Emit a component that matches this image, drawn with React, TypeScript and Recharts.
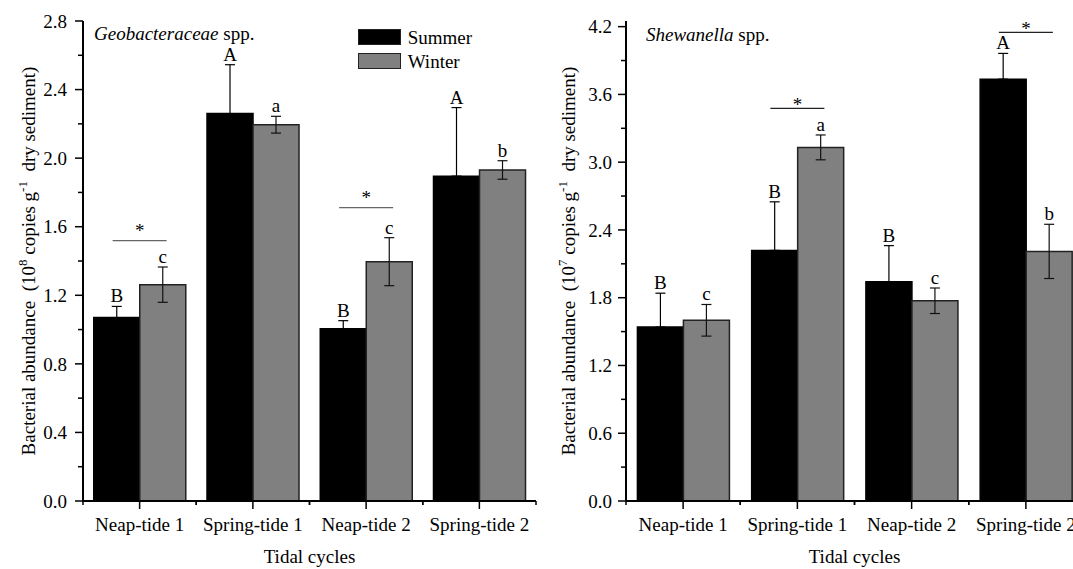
import React from 'react';
import { BarChart, Bar, XAxis, YAxis, ErrorBar, LabelList, ReferenceDot, Legend } from 'recharts';

// ---------- data ----------
const categories = ['Neap-tide 1', 'Spring-tide 1', 'Neap-tide 2', 'Spring-tide 2'];
const seriesNames = ['Summer', 'Winter'];

// Geobacteraceae spp. (10^8 copies g^-1 dry sediment)
const geoSummer = [1.07, 2.26, 1.005, 1.895];
const geoSummerErr = [0.065, 0.285, 0.047, 0.4];
const geoWinter = [1.262, 2.195, 1.396, 1.931];
const geoWinterErr = [0.103, 0.049, 0.14, 0.054];
const geoSummerLetters = ['B', 'A', 'B', 'A'];
const geoWinterLetters = ['c', 'a', 'c', 'b'];
const geoSigCats = ['Neap-tide 1', 'Neap-tide 2'];
const geoSigLevels = [1.519, 1.711];
const geoTicks = [0, 0.2, 0.4, 0.6, 0.8, 1.0, 1.2, 1.4, 1.6, 1.8, 2.0, 2.2, 2.4, 2.6, 2.8];
const geoMajorTicks = [0, 0.4, 0.8, 1.2, 1.6, 2.0, 2.4, 2.8];

// Shewanella spp. (10^7 copies g^-1 dry sediment)
const sheSummer = [1.54, 2.219, 1.941, 3.735];
const sheSummerErr = [0.3, 0.43, 0.32, 0.228];
const sheWinter = [1.6, 3.131, 1.773, 2.21];
const sheWinterErr = [0.14, 0.11, 0.113, 0.24];
const sheSummerLetters = ['B', 'B', 'B', 'A'];
const sheWinterLetters = ['c', 'a', 'c', 'b'];
const sheSigCats = ['Spring-tide 1', 'Spring-tide 2'];
const sheSigLevels = [3.476, 4.149];
const sheTicks = [0, 0.3, 0.6, 0.9, 1.2, 1.5, 1.8, 2.1, 2.4, 2.7, 3.0, 3.3, 3.6, 3.9, 4.2];
const sheMajorTicks = [0, 0.6, 1.2, 1.8, 2.4, 3.0, 3.6, 4.2];

// ---------- style ----------
const FONT = "'Liberation Serif', 'Times New Roman', serif";
const FS = 19;
const SUMMER_COLOR = '#000000';
const WINTER_COLOR = '#808080';

// Summer error bars: only the upper half shows above the black bar
const buildData = (s: number[], se: number[], w: number[], we: number[], sl: string[], wl: string[]) =>
  categories.map((c, i) => ({
    cat: c,
    summer: s[i],
    sErr: [0, se[i]],
    winter: w[i],
    wErr: we[i],
    sLetter: sl[i],
    wLetter: wl[i],
  }));

const YTick = (props: any) => {
  const { x, y, payload, majors, labelGap } = props;
  const v = payload.value as number;
  const major = majors.some((m: number) => Math.abs(m - v) < 1e-6);
  return (
    <g>
      <line x1={x} x2={x - (major ? 8 : 5)} y1={y} y2={y} stroke="#000" strokeWidth={1.5} />
      {major && (
        <text x={x - labelGap} y={y} dy="0.35em" textAnchor="end" fontSize={FS} fontFamily={FONT} fill="#000">
          {v.toFixed(1)}
        </text>
      )}
    </g>
  );
};

const XTick = (props: any) => {
  const { x, y, payload, band } = props;
  return (
    <g>
      <line x1={x} x2={x} y1={y} y2={y + 8} stroke="#000" strokeWidth={1.5} />
      <line x1={x - band / 2} x2={x - band / 2} y1={y} y2={y + 4} stroke="#000" strokeWidth={1.5} />
      <line x1={x + band / 2} x2={x + band / 2} y1={y} y2={y + 4} stroke="#000" strokeWidth={1.5} />
      <text x={x} y={y + 30} textAnchor="middle" fontSize={FS} fontFamily={FONT} fill="#000">
        {payload.value}
      </text>
    </g>
  );
};

const makeLetter = (vals: number[], errs: number[]) => (props: any) => {
  const vb = props.viewBox && props.viewBox.width !== undefined ? props.viewBox : props;
  const { x, y, width, height } = vb;
  const i = props.index;
  const v = vals[i];
  const e = errs[i];
  const ppu = Math.abs(height) / v;
  const top = Math.min(y, y + height) - e * ppu;
  return (
    <text x={x + width / 2} y={top - 4} textAnchor="middle" fontSize={FS} fontFamily={FONT} fill="#000">
      {props.value}
    </text>
  );
};

const makeSig = (color: string, starDy: number) => (props: any) => {
  const { cx, cy } = props;
  return (
    <g>
      <line x1={cx - 27} x2={cx + 27} y1={cy} y2={cy} stroke={color} strokeWidth={1.3} />
      <text x={cx} y={cy + starDy} textAnchor="middle" fontSize={FS} fontFamily={FONT} fill="#000">
        *
      </text>
    </g>
  );
};

const LegendContent = () => (
  <div style={{ fontFamily: FONT, fontSize: FS, color: '#000' }}>
    {seriesNames.map((n, i) => (
      <div key={n} style={{ display: 'flex', alignItems: 'center', height: 24.3 }}>
        <span
          style={{
            display: 'inline-block',
            width: 43,
            height: 16,
            background: i === 0 ? SUMMER_COLOR : WINTER_COLOR,
            border: '1.5px solid #222',
            boxSizing: 'border-box',
          }}
        />
        <span style={{ marginLeft: 7, lineHeight: '19px' }}>{n}</span>
      </div>
    ))}
  </div>
);

type PanelProps = {
  width: number;
  yAxisWidth: number;
  marginRight: number;
  domainMax: number;
  ticks: number[];
  majors: number[];
  labelGap: number;
  summer: number[];
  summerErr: number[];
  winter: number[];
  winterErr: number[];
  summerLetters: string[];
  winterLetters: string[];
  sigCats: string[];
  sigLevels: number[];
  sigColor: string;
  starDy: number;
  gap: string;
  showLegend: boolean;
  titleItalic: string;
  titleX: number;
  titleY: number;
  exponent: string;
};

const HEIGHT = 569;
const TOP = 21;
const BOTTOM_MARGIN = 28;
const XAXIS_H = 40;

const Panel = (p: PanelProps) => {
  const data = buildData(p.summer, p.summerErr, p.winter, p.winterErr, p.summerLetters, p.winterLetters);
  const plotW = p.width - p.marginRight - p.yAxisWidth;
  const band = plotW / categories.length;
  const plotBottom = HEIGHT - BOTTOM_MARGIN - XAXIS_H;
  const plotCenterY = (TOP + plotBottom) / 2;
  const axisStyle = { stroke: '#000', strokeWidth: 2 };
  return (
    <div style={{ position: 'relative', width: p.width, height: HEIGHT }}>
      <BarChart
        width={p.width}
        height={HEIGHT}
        data={data}
        margin={{ top: TOP, right: p.marginRight, bottom: BOTTOM_MARGIN, left: 0 }}
        barCategoryGap={p.gap}
        barGap={0}
      >
        <XAxis
          dataKey="cat"
          height={XAXIS_H}
          interval={0}
          tickSize={0}
          tickMargin={0}
          tickLine={false}
          axisLine={axisStyle}
          tick={(tp: any) => <XTick {...tp} band={band} />}
        />
        <XAxis
          xAxisId="top"
          dataKey="cat"
          orientation="top"
          height={0}
          tick={false}
          tickLine={false}
          axisLine={axisStyle}
        />
        <YAxis
          type="number"
          domain={[0, p.domainMax]}
          allowDataOverflow
          ticks={p.ticks}
          interval={0}
          width={p.yAxisWidth}
          tickSize={0}
          tickMargin={0}
          tickLine={false}
          axisLine={axisStyle}
          tick={(tp: any) => <YTick {...tp} majors={p.majors} labelGap={p.labelGap} />}
        />
        <YAxis
          yAxisId="r"
          orientation="right"
          type="number"
          domain={[0, p.domainMax]}
          allowDataOverflow
          width={0}
          tick={false}
          tickLine={false}
          axisLine={axisStyle}
        />
        <Bar dataKey="summer" name="Summer" fill={SUMMER_COLOR} stroke="#000" strokeWidth={1.5} isAnimationActive={false}>
          <ErrorBar dataKey="sErr" direction="y" width={5} stroke="#000" strokeWidth={1.2} />
          <LabelList dataKey="sLetter" content={makeLetter(p.summer, p.summerErr)} />
        </Bar>
        <Bar dataKey="winter" name="Winter" fill={WINTER_COLOR} stroke="#222" strokeWidth={1.5} isAnimationActive={false}>
          <ErrorBar dataKey="wErr" direction="y" width={5} stroke="#111" strokeWidth={1.2} />
          <LabelList dataKey="wLetter" content={makeLetter(p.winter, p.winterErr)} />
        </Bar>
        {p.sigCats.map((c, i) => (
          <ReferenceDot
            key={c}
            x={c}
            y={p.sigLevels[i]}
            r={1}
            ifOverflow="visible"
            shape={makeSig(p.sigColor, p.starDy)}
          />
        ))}
        {p.showLegend && (
          <Legend
            layout="vertical"
            align="center"
            verticalAlign="middle"
            content={<LegendContent />}
            wrapperStyle={{ position: 'absolute', left: 357.7, top: 24.9, width: 'auto', height: 'auto' }}
          />
        )}
      </BarChart>
      <svg
        width={p.width}
        height={HEIGHT}
        style={{ position: 'absolute', left: 0, top: 0, pointerEvents: 'none', overflow: 'visible' }}
      >
        <text x={p.titleX} y={p.titleY} fontSize={FS} fontFamily={FONT} fill="#000">
          <tspan fontStyle="italic">{p.titleItalic}</tspan>
          <tspan> spp.</tspan>
        </text>
        <text
          transform="rotate(-90)"
          x={-plotCenterY}
          y={35}
          textAnchor="middle"
          fontSize={FS}
          fontFamily={FONT}
          fill="#000"
          style={{ whiteSpace: 'pre' }}
        >
          {'Bacterial abundance  (10'}
          <tspan fontSize={13} dy={-8}>{p.exponent}</tspan>
          <tspan dy={8}>{' copies g'}</tspan>
          <tspan fontSize={13} dy={-8}>{'-1'}</tspan>
          <tspan dy={8}>{'  dry sediment)'}</tspan>
        </text>
        <text
          x={p.yAxisWidth + plotW / 2}
          y={563}
          textAnchor="middle"
          fontSize={FS}
          fontFamily={FONT}
          fill="#000"
        >
          Tidal cycles
        </text>
      </svg>
    </div>
  );
};

export default function App() {
  return (
    <div
      style={{
        position: 'absolute',
        left: 0,
        top: 0,
        width: 1073,
        height: 569,
        background: '#fff',
        overflow: 'hidden',
        fontFamily: FONT,
      }}
    >
      <div style={{ position: 'absolute', left: 0, top: 0, width: 545, height: 569 }}>
        <Panel
          width={545}
          yAxisWidth={83}
          marginRight={9}
          domainMax={2.8}
          ticks={geoTicks}
          majors={geoMajorTicks}
          labelGap={16}
          summer={geoSummer}
          summerErr={geoSummerErr}
          winter={geoWinter}
          winterErr={geoWinterErr}
          summerLetters={geoSummerLetters}
          winterLetters={geoWinterLetters}
          sigCats={geoSigCats}
          sigLevels={geoSigLevels}
          sigColor="#666"
          starDy={-3.5}
          gap="9.5%"
          showLegend={true}
          titleItalic="Geobacteraceae"
          titleX={94}
          titleY={40}
          exponent="8"
        />
      </div>
      <div style={{ position: 'absolute', left: 540, top: 0, width: 533, height: 569, overflow: 'hidden' }}>
        <Panel
          width={553}
          yAxisWidth={86}
          marginRight={10}
          domainMax={4.25}
          ticks={sheTicks}
          majors={sheMajorTicks}
          labelGap={14}
          summer={sheSummer}
          summerErr={sheSummerErr}
          winter={sheWinter}
          winterErr={sheWinterErr}
          summerLetters={sheSummerLetters}
          winterLetters={sheWinterLetters}
          sigCats={sheSigCats}
          sigLevels={sheSigLevels}
          sigColor="#222"
          starDy={3}
          gap="10%"
          showLegend={false}
          titleItalic="Shewanella"
          titleX={106}
          titleY={41}
          exponent="7"
        />
      </div>
    </div>
  );
}
